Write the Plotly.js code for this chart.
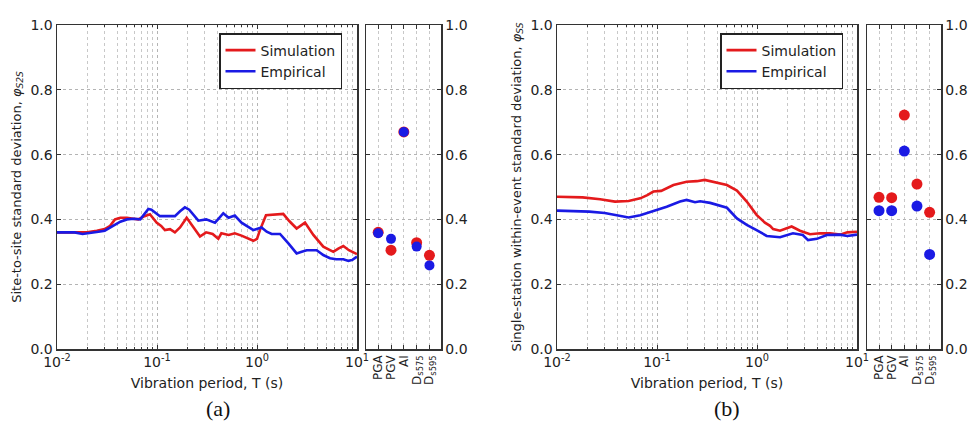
<!DOCTYPE html>
<html>
<head>
<meta charset="utf-8">
<script src="https://cdn.plot.ly/plotly-3.0.1.min.js"></script>
<style>html,body{margin:0;padding:0;background:#fff;}#chart{width:975px;height:424px;}</style>
</head>
<body>
<div id="chart"></div>
<script>
// ---------- data ----------
// Panel (a): site-to-site standard deviation
const periodA_sim = [0.01,0.015,0.02,0.025,0.03,0.034,0.038,0.043,0.05,0.058,0.065,0.075,0.085,0.099,0.11,0.12,0.135,0.151,0.17,0.198,0.23,0.269,0.31,0.36,0.41,0.44,0.52,0.60,0.70,0.82,0.92,1.0,1.07,1.23,1.5,1.83,2.1,2.49,3.02,3.66,4.6,5.8,6.5,7.3,8.3,10];
const sigmaA_sim  = [0.36,0.36,0.36,0.365,0.37,0.38,0.40,0.405,0.405,0.402,0.40,0.41,0.416,0.39,0.38,0.367,0.37,0.36,0.375,0.405,0.375,0.347,0.36,0.355,0.34,0.357,0.352,0.357,0.35,0.34,0.334,0.34,0.367,0.413,0.415,0.417,0.395,0.372,0.39,0.352,0.316,0.30,0.31,0.318,0.305,0.293];
const periodA_emp = [0.01,0.015,0.018,0.022,0.026,0.03,0.036,0.043,0.05,0.058,0.068,0.075,0.082,0.088,0.096,0.107,0.13,0.151,0.17,0.19,0.21,0.259,0.31,0.38,0.42,0.46,0.52,0.60,0.70,0.80,0.92,1.11,1.25,1.40,1.70,2.06,2.49,2.8,3.14,3.95,4.6,5.37,6.2,7.3,8.2,9.0,10];
const sigmaA_emp  = [0.36,0.36,0.355,0.358,0.362,0.365,0.38,0.393,0.40,0.402,0.40,0.418,0.432,0.43,0.42,0.41,0.41,0.41,0.425,0.437,0.43,0.396,0.40,0.39,0.405,0.419,0.405,0.412,0.39,0.38,0.367,0.375,0.362,0.355,0.355,0.326,0.295,0.30,0.305,0.305,0.29,0.28,0.277,0.277,0.272,0.275,0.285];

// Panel (b): single-station within-event standard deviation
const periodB_sim = [0.01,0.018,0.027,0.038,0.052,0.068,0.08,0.092,0.11,0.146,0.198,0.25,0.30,0.395,0.50,0.63,0.79,0.99,1.2,1.35,1.45,1.7,1.95,2.22,2.69,3.39,4.27,5.37,6.76,8.0,10];
const sigmaB_sim  = [0.47,0.468,0.462,0.455,0.457,0.465,0.475,0.486,0.488,0.506,0.516,0.518,0.522,0.514,0.506,0.489,0.455,0.414,0.39,0.38,0.37,0.365,0.372,0.378,0.365,0.354,0.357,0.357,0.353,0.36,0.362];
const periodB_emp = [0.01,0.021,0.03,0.040,0.052,0.068,0.092,0.125,0.17,0.198,0.24,0.27,0.34,0.44,0.50,0.63,0.79,0.99,1.25,1.70,2.29,2.87,3.24,3.97,4.98,6.76,8.0,10];
const sigmaB_emp  = [0.427,0.424,0.42,0.412,0.406,0.413,0.426,0.439,0.455,0.46,0.453,0.456,0.451,0.441,0.436,0.403,0.383,0.367,0.349,0.345,0.357,0.352,0.336,0.34,0.352,0.353,0.349,0.353];

// Scalar intensity measures
const imLabels = ['PGA','PGV','AI','D<sub>s575</sub>','D<sub>s595</sub>'];
const imA_sim = [0.36,0.305,0.67,0.328,0.289];
const imA_emp = [0.357,0.34,0.67,0.316,0.258];
const imB_sim = [0.468,0.467,0.722,0.509,0.422];
const imB_emp = [0.427,0.427,0.611,0.441,0.292];

const logTickVals = [0.01,0.1,1,10];
const logTickText = ['10<sup>-2</sup>','10<sup>-1</sup>','10<sup>0</sup>','10<sup>1</sup>'];
const yTickVals = [0,0.2,0.4,0.6,0.8,1.0];

// ---------- styling ----------
const RED = 'rgb(228,26,28)';
const BLUE = 'rgb(26,26,228)';
const FONT = 'DejaVu Sans, Verdana, sans-serif';
const FRAME = '#333';
const GRID = '#b4b4b4';
const GRID_MINOR = '#c8c8c8';

const minorVals = [];
for (let e = -2; e < 1; e++) for (let d = 2; d <= 9; d++) minorVals.push(d * Math.pow(10, e));

const yDom = [1 - 349/424, 1 - 25/424];

function mainX(dom, titleText) {
  return {
    type: 'log', domain: dom, range: [-2, 1],
    tickmode: 'array', tickvals: logTickVals, ticktext: logTickText,
    ticks: 'inside', ticklen: 4, tickcolor: FRAME,
    showline: true, linecolor: FRAME, linewidth: 1.5, mirror: 'ticks',
    showgrid: true, gridcolor: GRID, griddash: 'dot', gridwidth: 1,
    minor: {tickmode: 'array', tickvals: minorVals, ticks: 'inside', ticklen: 2, tickcolor: FRAME,
            showgrid: true, gridcolor: GRID_MINOR, griddash: 'dot', gridwidth: 1},
    zeroline: false,
    tickfont: {family: FONT, size: 14, color: '#222'},
    title: {text: titleText, font: {family: FONT, size: 14, color: '#222'}, standoff: 9},
    fixedrange: true
  };
}
function mainY(anchor, titleText) {
  return {
    domain: yDom, range: [0, 1], anchor: anchor,
    tickmode: 'array', tickvals: yTickVals, tickformat: '.1f',
    ticks: 'inside', ticklen: 4, tickcolor: FRAME,
    showline: true, linecolor: FRAME, linewidth: 1.5, mirror: 'ticks',
    showgrid: true, gridcolor: GRID, griddash: 'dot', gridwidth: 1,
    zeroline: false,
    tickfont: {family: FONT, size: 14, color: '#222'},
    title: {text: titleText, font: {family: FONT, size: 13, color: '#222'}, standoff: 6},
    fixedrange: true
  };
}
function sideX(dom, anchor) {
  return {
    type: 'category', domain: dom, anchor: anchor, range: [-0.95, 4.9],
    categoryorder: 'array', categoryarray: imLabels,
    tickmode: 'array', tickvals: imLabels, ticktext: imLabels,
    tickangle: -90,
    ticks: 'inside', ticklen: 4, tickcolor: FRAME,
    showline: true, linecolor: FRAME, linewidth: 1.5, mirror: 'ticks',
    showgrid: true, gridcolor: GRID_MINOR, griddash: 'dot', gridwidth: 1,
    tickfont: {family: FONT, size: 12, color: '#222'},
    fixedrange: true
  };
}
function sideY(anchor) {
  return {
    domain: yDom, range: [0, 1], anchor: anchor, side: 'right',
    tickmode: 'array', tickvals: yTickVals, tickformat: '.1f',
    ticks: 'inside', ticklen: 4, tickcolor: FRAME,
    showline: true, linecolor: FRAME, linewidth: 1.5, mirror: 'ticks',
    showgrid: true, gridcolor: GRID, griddash: 'dot', gridwidth: 1,
    zeroline: false,
    tickfont: {family: FONT, size: 14, color: '#222'},
    fixedrange: true
  };
}

const traces = [
  {x: periodA_sim, y: sigmaA_sim, xaxis: 'x', yaxis: 'y', mode: 'lines', name: 'Simulation',
   line: {color: RED, width: 2.6}, legend: 'legend'},
  {x: periodA_emp, y: sigmaA_emp, xaxis: 'x', yaxis: 'y', mode: 'lines', name: 'Empirical',
   line: {color: BLUE, width: 2.6}, legend: 'legend'},
  {x: imLabels, y: imA_sim, xaxis: 'x2', yaxis: 'y2', mode: 'markers', showlegend: false,
   marker: {color: RED, size: 11, line: {width: 0}}},
  {x: imLabels, y: imA_emp, xaxis: 'x2', yaxis: 'y2', mode: 'markers', showlegend: false,
   marker: {color: BLUE, size: 10, line: {width: 0}}},
  {x: periodB_sim, y: sigmaB_sim, xaxis: 'x3', yaxis: 'y3', mode: 'lines', name: 'Simulation',
   line: {color: RED, width: 2.6}, legend: 'legend2'},
  {x: periodB_emp, y: sigmaB_emp, xaxis: 'x3', yaxis: 'y3', mode: 'lines', name: 'Empirical',
   line: {color: BLUE, width: 2.6}, legend: 'legend2'},
  {x: imLabels, y: imB_sim, xaxis: 'x4', yaxis: 'y4', mode: 'markers', showlegend: false,
   marker: {color: RED, size: 11, line: {width: 0}}},
  {x: imLabels, y: imB_emp, xaxis: 'x4', yaxis: 'y4', mode: 'markers', showlegend: false,
   marker: {color: BLUE, size: 11, line: {width: 0}}}
];

const legendStyle = (x) => ({
  x: x, y: 1 - 33/424, xref: 'paper', yref: 'paper', xanchor: 'left', yanchor: 'top',
  bgcolor: '#fff', bordercolor: '#222', borderwidth: 1.5,
  font: {family: FONT, size: 14, color: '#222'}, tracegroupgap: 0, itemwidth: 30
});

const layout = {
  width: 975, height: 424,
  margin: {l: 0, r: 0, t: 0, b: 0},
  paper_bgcolor: '#fff', plot_bgcolor: '#fff',
  showlegend: true,
  xaxis: Object.assign(mainX([57/975, 357/975], 'Vibration period, T (s)'), {anchor: 'y'}),
  yaxis: mainY('x', 'Site-to-site standard deviation, <i>φ<sub>S2S</sub></i>'),
  xaxis2: sideX([366/975, 441/975], 'y2'),
  yaxis2: sideY('x2'),
  xaxis3: Object.assign(mainX([557/975, 857/975], 'Vibration period, T (s)'), {anchor: 'y3'}),
  yaxis3: mainY('x3', 'Single-station within-event standard deviation, <i>φ<sub>SS</sub></i>'),
  xaxis4: sideX([867/975, 941/975], 'y4'),
  yaxis4: sideY('x4'),
  legend: legendStyle(219/975),
  legend2: legendStyle(720/975),
  annotations: [
    {text: '(a)', x: 218/975, y: 1 - 408/424, xref: 'paper', yref: 'paper', showarrow: false,
     xanchor: 'center', yanchor: 'middle', font: {family: 'Liberation Serif, Times New Roman, serif', size: 22, color: '#111'}},
    {text: '(b)', x: 727/975, y: 1 - 408/424, xref: 'paper', yref: 'paper', showarrow: false,
     xanchor: 'center', yanchor: 'middle', font: {family: 'Liberation Serif, Times New Roman, serif', size: 22, color: '#111'}}
  ]
};

Plotly.newPlot('chart', traces, layout, {staticPlot: true, displayModeBar: false});
</script>
</body>
</html>
